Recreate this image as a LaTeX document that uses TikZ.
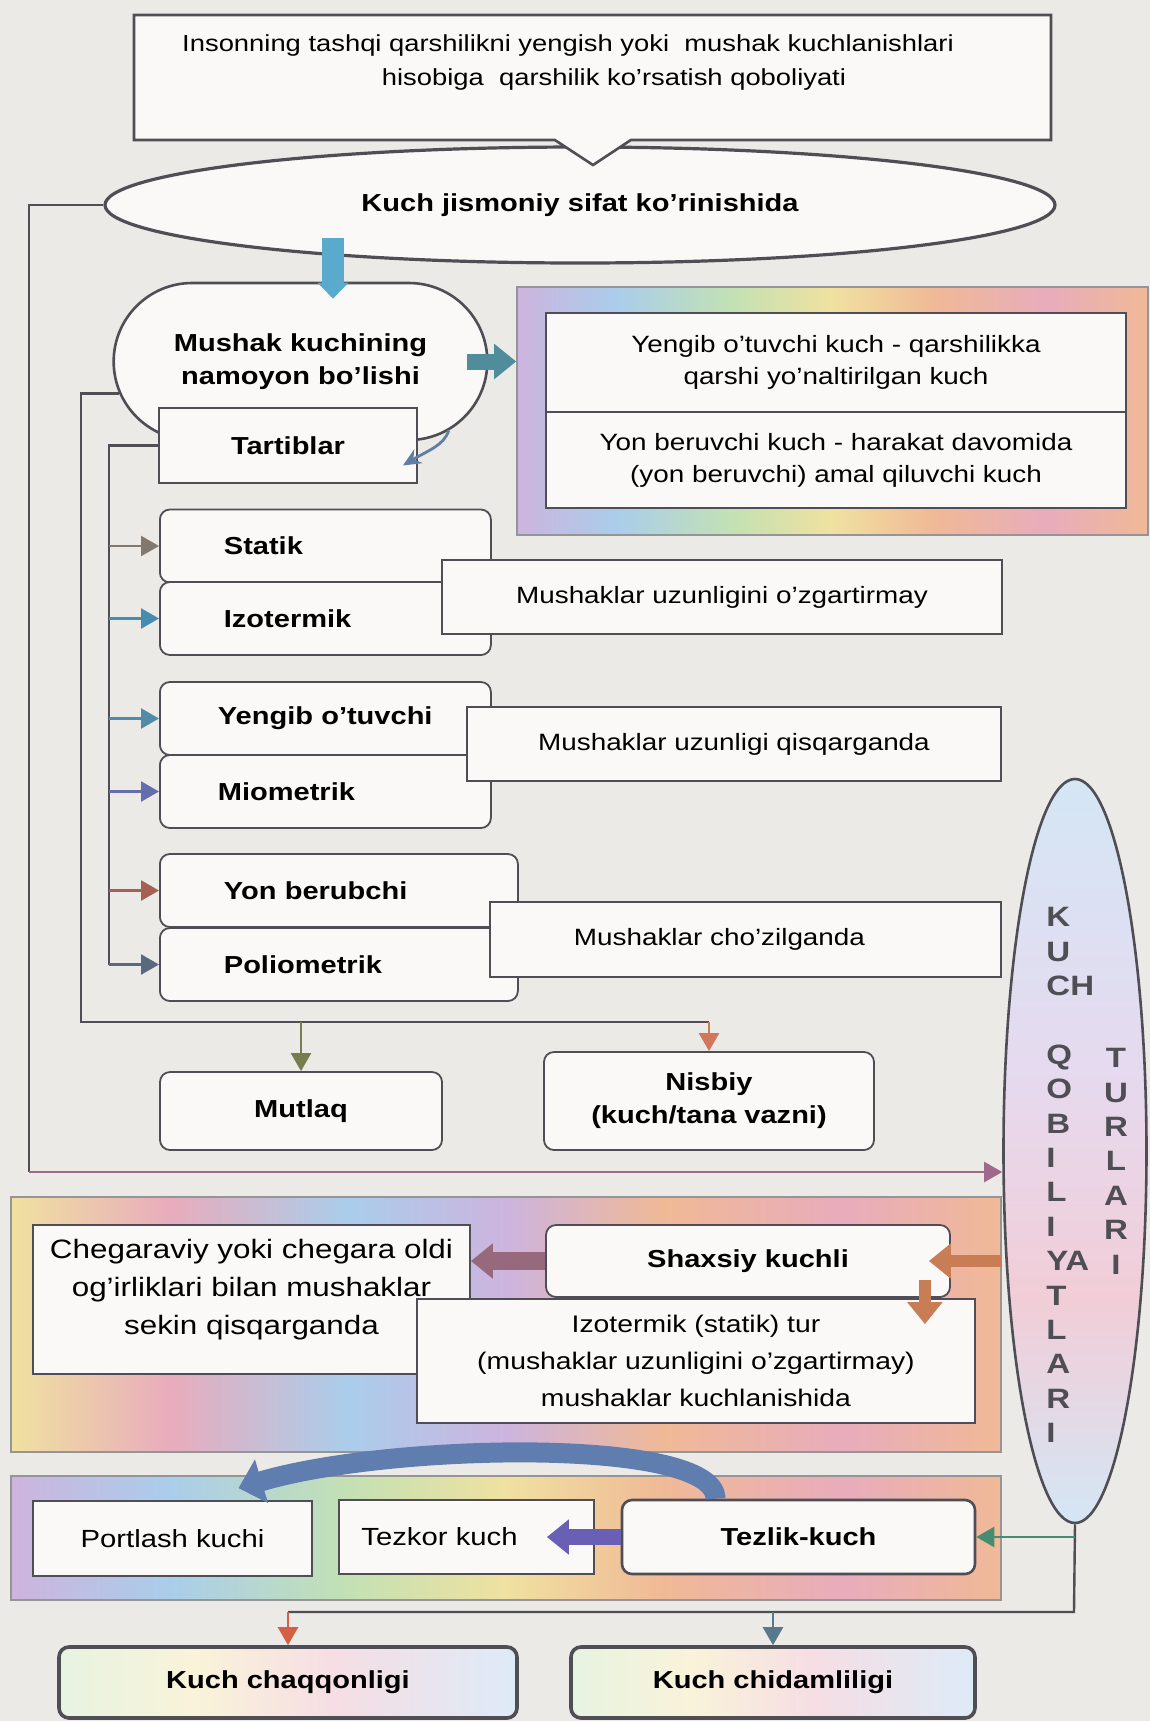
\documentclass[tikz,border=0pt]{standalone}
\usepackage{fontspec}
\setmainfont{Liberation Sans}[FakeStretch=1.18]
\usetikzlibrary{arrows.meta}
\usetikzlibrary{positioning}
\usetikzlibrary{shapes.geometric}
\usetikzlibrary{shapes.misc}
\usetikzlibrary{shapes.callouts}
\usetikzlibrary{calc}

\definecolor{bgcol}{RGB}{236,234,230}
\definecolor{boxfill}{RGB}{250,249,247}
\definecolor{linecol}{RGB}{78,78,84}
\definecolor{arrblue}{RGB}{90,170,205}
\definecolor{arrteal}{RGB}{80,140,155}
\definecolor{arrsteel}{RGB}{95,125,165}
\definecolor{arrbrown}{RGB}{150,105,125}
\definecolor{arrorange}{RGB}{200,125,85}
\definecolor{arrviolet}{RGB}{105,95,180}
\definecolor{arrgreen}{RGB}{70,140,115}
\definecolor{arrred}{RGB}{210,95,70}
\definecolor{arrslate}{RGB}{90,120,140}
\definecolor{arrmauve}{RGB}{160,105,140}
\definecolor{arrsalmon}{RGB}{210,120,90}
\definecolor{arrolive}{RGB}{120,125,80}
\definecolor{arrcurve}{RGB}{95,125,175}
\definecolor{arrstatik}{RGB}{130,120,110}
\definecolor{arrizot}{RGB}{70,140,175}
\definecolor{arryengib}{RGB}{80,140,165}
\definecolor{arrmiom}{RGB}{100,110,170}
\definecolor{arryon}{RGB}{165,95,85}
\definecolor{arrpolio}{RGB}{90,105,125}

\definecolor{rbviolet}{RGB}{205,180,222}
\definecolor{rbblue}{RGB}{170,205,235}
\definecolor{rbgreen}{RGB}{195,225,180}
\definecolor{rbyellow}{RGB}{240,225,160}
\definecolor{rborange}{RGB}{240,185,150}
\definecolor{rbpink}{RGB}{232,172,188}
\pgfdeclarehorizontalshading{rainbowband}{100bp}{color(0bp)=(rbviolet); color(25bp)=(rbviolet); color(33bp)=(rbblue); color(42bp)=(rbgreen); color(50bp)=(rbyellow); color(58bp)=(rborange); color(67bp)=(rbpink); color(75bp)=(rborange); color(100bp)=(rborange)}
\pgfdeclarehorizontalshading{rainbowband2}{100bp}{color(0bp)=(rbyellow); color(25bp)=(rbyellow); color(33bp)=(rbpink); color(42bp)=(rbblue); color(50bp)=(rbviolet); color(58bp)=(rborange); color(67bp)=(rbpink); color(75bp)=(rborange); color(100bp)=(rborange)}
\pgfdeclarehorizontalshading{rainbowpale}{100bp}{color(0bp)=(rbgreen!40!white); color(25bp)=(rbgreen!40!white); color(40bp)=(rbyellow!40!white); color(55bp)=(rbpink!40!white); color(75bp)=(rbblue!40!white); color(100bp)=(rbblue!40!white)}
\pgfdeclareverticalshading{ellshade}{100bp}{color(0bp)=(rbblue!50!white); color(25bp)=(rbblue!50!white); color(40bp)=(rbpink!60!white); color(55bp)=(rbviolet!50!white); color(75bp)=(rbblue!50!white); color(100bp)=(rbblue!50!white)}

\newcommand{\txtreg}{\fontsize{11.8}{16}\selectfont}
\newcommand{\txttop}{\fontsize{11.6}{17}\selectfont}
\newcommand{\txtbold}{\fontsize{12.3}{16.5}\selectfont\bfseries}
\newcommand{\txtround}{\fontsize{13.3}{19}\selectfont}
\newcommand{\txtlow}{\fontsize{12.4}{15}\selectfont}
\newcommand{\txtletters}{\fontsize{14}{17.2}\selectfont\bfseries}

\tikzset{
  rail/.style={draw=linecol, line width=1.2pt},
  railarrow/.style={rail, -{Triangle[length=9pt,width=10pt]}},
  blockarrow/.style={line width=#1, -{Triangle[length=11pt,width=17pt]}},
  box/.style={draw=linecol, line width=0.9pt, fill=boxfill, inner sep=2pt, align=center},
  roundbox/.style={box, rounded corners=5pt},
  tartib/.style={roundbox, anchor=west, font=\txtbold, align=left, inner xsep=32pt, minimum height=36.5pt},
  band/.style={draw=linecol!60, line width=0.8pt, shade, shading=#1},
}

\begin{document}
\begin{tikzpicture}[x=0.5pt,y=-0.5pt]
	%BACKGROUND
	\useasboundingbox (0,0) rectangle (1150,1721);
	\fill[bgcol] (0,0) rectangle (1150,1721);

	%RAILS
	\coordinate (chaprail) at (29,1172);
	\coordinate (ortarail) at (81,1022);
	\coordinate (ichrail) at (109,964.5);
	\coordinate (nizrail) at (1074,1612);

	%TOP: DEFINITION AND QUALITY
	\node [ellipse, draw=linecol, line width=1.6pt, fill=boxfill, minimum width=475pt, minimum height=58pt, font=\txtbold] (sifat) at (580,205) {Kuch jismoniy sifat ko'rinishida};
	\node [rectangle callout, draw=linecol, line width=1.3pt, fill=boxfill, minimum width=458.5pt, minimum height=62.5pt, callout absolute pointer={(593,165)}, callout pointer width=38pt] (tarif) at (592.5,77.5) {};
	\node [font=\txttop, align=center] (tariftext) at (568,62) {Insonning tashqi qarshilikni yengish yoki\ \ mushak kuchlanishlari\\\hspace*{46pt}hisobiga\ \ qarshilik ko'rsatish qoboliyati};
	\draw [rail] (sifat.west) -| (chaprail);

	%MUSHAK KUCHI
	\node [rounded rectangle, draw=linecol, line width=1.3pt, fill=boxfill, minimum width=193.5pt, minimum height=78.5pt, font=\txtbold, align=center] (mushak) at (300.5,361.5) {Mushak kuchining\\namoyon bo'lishi};
	\draw [line width=11pt, draw=arrblue, -{Triangle[length=8pt,width=15pt]}] ($(sifat.south)+(-247,-27)$) -- ($(mushak.north)+(32.5,17)$);
	\node [box, minimum width=129pt, minimum height=37.5pt, font=\txtbold] (tartib) at (288,445.5) {Tartiblar};
	\draw [line width=1.4pt, draw=arrsteel, -{Stealth[length=9pt,width=8pt]}] (mushak.-25) .. controls +(-5,15) and +(25,-15) .. ($(tartib.east)+(-15,20)$);

	%KUCH TURI
	\node [band=rainbowband, minimum width=315.5pt, minimum height=124pt] (ramka) at (832.5,411) {};
	\node [box, minimum width=290pt, minimum height=49.5pt, font=\txtreg] (yengibkuch) at (836,362.5) {Yengib o'tuvchi kuch - qarshilikka\\qarshi yo'naltirilgan kuch};
	\node [box, minimum width=290pt, minimum height=48pt, font=\txtreg] (yonkuch) at (836,460) {Yon beruvchi kuch - harakat davomida\\(yon beruvchi) amal qiluvchi kuch};
	\draw [blockarrow=8pt, draw=arrteal] ($(mushak.east)+(-22,0)$) -- (ramka.west |- mushak.east);

	%TARTIBLAR
	\node [tartib, text width=101.5pt] (statik) at (159,546) {Statik};
	\node [tartib, text width=101.5pt] (izotermik) at (159,618.5) {Izotermik};
	\node [tartib, inner xsep=29pt, text width=107.5pt] (yengib) at (159,718.5) {Yengib o'tuvchi};
	\node [tartib, inner xsep=29pt, text width=107.5pt] (miometrik) at (159,791.5) {Miometrik};
	\node [tartib, text width=115pt] (yonber) at (159,890.5) {Yon berubchi};
	\node [tartib, text width=115pt] (poliometrik) at (159,964.5) {Poliometrik};
	\node [box, minimum width=280pt, minimum height=37pt, font=\txtreg] (ozgarmay) at (722,597) {Mushaklar uzunligini o'zgartirmay};
	\node [box, minimum width=267pt, minimum height=37pt, font=\txtreg] (qisqarganda) at (734,744) {Mushaklar uzunligi qisqarganda};
	\node [box, minimum width=255.5pt, minimum height=37.5pt, font=\txtreg] (chozilganda) at (745.5,939.5) {Mushaklar cho'zilganda\hspace*{26pt}};

	\draw [rail] (tartib.west) -| (ichrail);
	\draw [railarrow, draw=arrstatik] (ichrail |- statik.west) -- (statik.west);
	\draw [railarrow, draw=arrizot] (ichrail |- izotermik.west) -- (izotermik.west);
	\draw [railarrow, draw=arryengib] (ichrail |- yengib.west) -- (yengib.west);
	\draw [railarrow, draw=arrmiom] (ichrail |- miometrik.west) -- (miometrik.west);
	\draw [railarrow, draw=arryon] (ichrail |- yonber.west) -- (yonber.west);
	\draw [railarrow, draw=arrpolio] (ichrail) -- (poliometrik.west);

	%MUTLAQ NISBIY
	\node [roundbox, minimum width=141pt, minimum height=39pt, font=\txtbold] (mutlaq) at (301,1111) {Mutlaq};
	\node [roundbox, minimum width=165pt, minimum height=49pt, font=\txtbold] (nisbiy) at (709,1101) {Nisbiy\\(kuch/tana vazni)};
	\draw [rail] (mushak.190) -| (ortarail) -- (ortarail -| nisbiy.north);
	\draw [railarrow, draw=arrsalmon] (ortarail -| nisbiy.north) -- (nisbiy.north);
	\draw [railarrow, draw=arrolive] (ortarail -| mutlaq.north) -- (mutlaq.north);

	%KUCH QOBILIYATLARI
	\node [ellipse, draw=linecol, line width=1.3pt, shade, shading=ellshade, minimum width=71.5pt, minimum height=372pt] (qobil) at (1075,1151) {};
	\node [anchor=north west, inner sep=0pt, align=left, font=\txtletters, text=linecol] (qobiltext) at (1046,907) {K\\U\\CH\\[17.2pt]Q\\O\\B\\I\\L\\I\\YA\\T\\L\\A\\R\\I};
	\node [anchor=north, inner sep=0pt, align=center, font=\txtletters, text=linecol] (turlartext) at (1116,1048) {T\\U\\R\\L\\A\\R\\I};
	\draw [railarrow, draw=arrmauve] (chaprail) -- (chaprail -| qobil.west);

	%SHAXSIY KUCH
	\node [band=rainbowband2, minimum width=495pt, minimum height=127.5pt] (ramka2) at (506,1324.5) {};
	\node [box, minimum width=218.5pt, minimum height=74.5pt, font=\txtround] (chegara) at (251.5,1299.5) {Chegaraviy yoki chegara oldi\\og'irliklari bilan mushaklar\\sekin qisqarganda\\[-6pt]\mbox{}};
	\node [roundbox, minimum width=202pt, minimum height=36pt, font=\txtbold] (shaxsiy) at (748,1261) {Shaxsiy kuchli};
	\node [box, minimum width=279pt, minimum height=62pt, font=\txtreg\fontsize{12}{18.5}\selectfont] (izotstat) at (696,1361) {Izotermik (statik) tur\\(mushaklar uzunligini o'zgartirmay)\\mushaklar kuchlanishida};
	\draw [blockarrow=9pt, draw=arrbrown] (shaxsiy.west) -- (chegara.east |- shaxsiy.west);
	\draw [blockarrow=6pt, draw=arrorange] (qobil.west |- shaxsiy.east) -- ($(shaxsiy.east)+(-22,0)$);
	\draw [blockarrow=6pt, draw=arrorange] ($(shaxsiy.south east)+(-26,-18)$) -- ($(izotstat.north east)+(-51,26)$);

	%TEZLIK KUCH
	\node [band=rainbowband, minimum width=495pt, minimum height=62pt] (ramka3) at (506,1538) {};
	\node [box, minimum width=139.5pt, minimum height=37.5pt, font=\txtlow] (portlash) at (172.5,1538.5) {Portlash kuchi};
	\node [box, minimum width=127.5pt, minimum height=37pt, font=\txtlow] (tezkor) at (466.5,1537) {Tezkor kuch\hspace*{27pt}};
	\node [roundbox, line width=1.3pt, minimum width=176.5pt, minimum height=37pt, font=\txtbold] (tezlik) at (798.5,1537) {Tezlik-kuch};
	\draw [blockarrow=8pt, draw=arrviolet] (tezlik.west) -- ($(tezkor.east)+(-48,0)$);
	\draw [line width=10pt, draw=arrcurve, -{Triangle[length=12pt,width=22pt]}] ($(tezlik.north)+(-83,0)$) .. controls +(0,-62) and +(150,-45) .. ($(portlash.north)+(66,-12)$);

	%CHAQQONLIK CHIDAMLILIK
	\node [roundbox, line width=1.8pt, shade, shading=rainbowpale, minimum width=229pt, minimum height=35.5pt, font=\txtbold] (chaqq) at (288,1682.5) {Kuch chaqqonligi};
	\node [roundbox, line width=1.8pt, shade, shading=rainbowpale, minimum width=202pt, minimum height=35.5pt, font=\txtbold] (chidam) at (773,1682.5) {Kuch chidamliligi};
	\draw [rail] (qobil.south) -- (nizrail) -- (nizrail -| chaqq.north);
	\draw [railarrow, draw=arrred] (nizrail -| chaqq.north) -- (chaqq.north);
	\draw [railarrow, draw=arrslate] (nizrail -| chidam.north) -- (chidam.north);
	\draw [railarrow, draw=arrgreen] (qobil.south |- tezlik.east) -- (tezlik.east);
\end{tikzpicture}
\end{document}
